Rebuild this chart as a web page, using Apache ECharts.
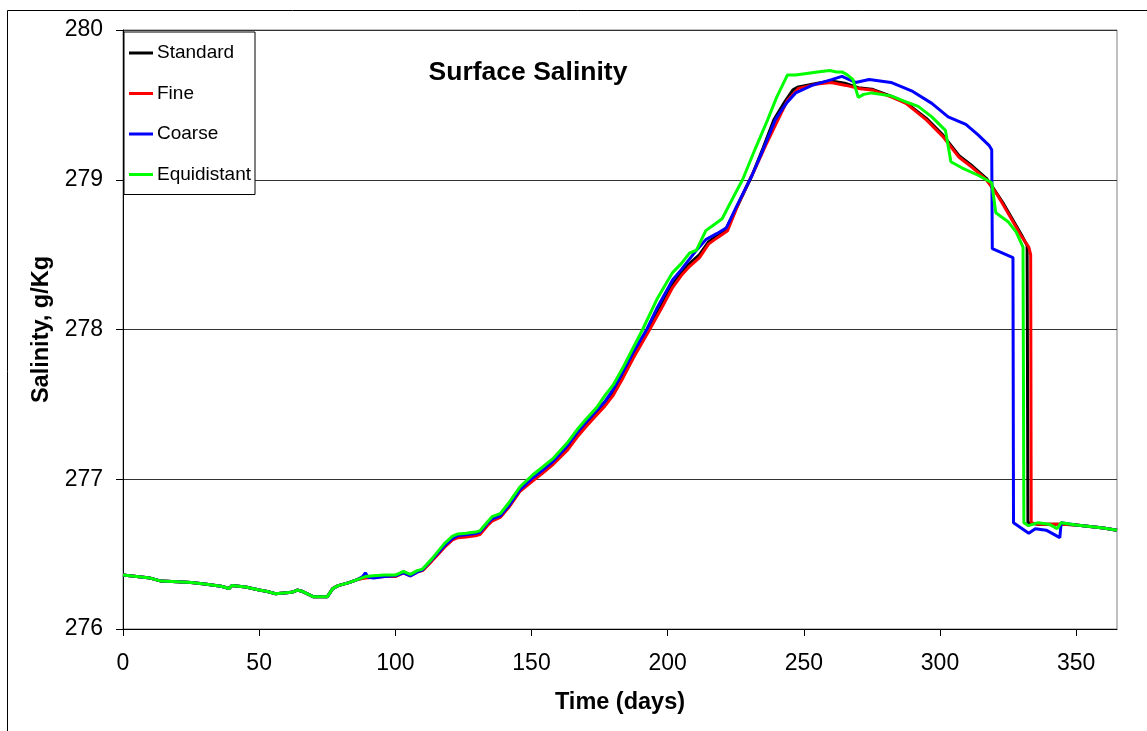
<!DOCTYPE html>
<html>
<head>
<meta charset="utf-8">
<script src="https://cdn.jsdelivr.net/npm/echarts@6/dist/echarts.min.js"></script>
<style>
html,body{margin:0;padding:0;background:#fff;}
#chart{width:1147px;height:731px;}
</style>
</head>
<body>
<div id="chart"></div>
<script>
// ---- Data ----
var xTicks = [0, 50, 100, 150, 200, 250, 300, 350];
var yTicks = [276, 277, 278, 279, 280];
var seriesNames = ['Standard', 'Fine', 'Coarse', 'Equidistant'];

// shared early segment (days 0-86), all runs coincide
var earlyDays = [0,5,10,14,20,25,30,36,39,40,45,50,53,56,59,62,64,66,70,75,77,79,83,86];
var earlySal = [276.36,276.35,276.34,276.32,276.315,276.31,276.30,276.285,276.27,276.29,276.28,276.26,276.25,276.235,276.24,276.245,276.26,276.25,276.215,276.215,276.27,276.29,276.31,276.33];

var stdDays = [89,92,96,100,103,105.5,108,110,113.5,115.5,118,121,123,126,130,131,133.8,135.5,138.5,142,145.8,150.5,154,158,163,166.7,170,174,177,180,183.7,187.4,193,198,201.8,205,208,211.7,215,218,221,225,231,235,239,243,246,248,255,260,265,270,275,282.5,287.5,295,301,307,312,317,319,323,326.5,330,332,332.3,336,340,345,350,355,360,365];
var stdSal = [276.345,276.35,276.355,276.355,276.38,276.36,276.385,276.395,276.46,276.50,276.55,276.60,276.62,276.625,276.635,276.64,276.70,276.73,276.75,276.825,276.925,277.0,277.05,277.11,277.205,277.295,277.365,277.445,277.505,277.58,277.70,277.83,278.0,278.17,278.30,278.38,278.44,278.50,278.585,278.625,278.655,278.80,279.03,279.21,279.40,279.52,279.60,279.62,279.645,279.66,279.645,279.615,279.605,279.555,279.515,279.41,279.30,279.16,279.09,279.01,278.96,278.85,278.74,278.63,278.56,276.71,276.70,276.70,276.70,276.695,276.685,276.675,276.66];

var fineDays = [89,92,96,100,103,105.5,108,110,113.5,115.5,118,121,123,126,130,131,133.8,135.5,138.5,142,145.8,150.5,154,158,163,166.7,170,174,177,180,183.7,187.4,193.4,198,201.8,205,208,211.7,215,218,222,226,232,236,240.5,244,248,255,260,265.5,270,275,282.5,287.5,295,301,307,312,317,319,321,323,326.5,330,332.6,333.3,333.5,336,340,345,350,355,360,365];
var fineSal = [276.34,276.345,276.35,276.35,276.375,276.355,276.38,276.39,276.455,276.495,276.545,276.595,276.61,276.615,276.625,276.63,276.69,276.72,276.745,276.82,276.92,276.99,277.04,277.10,277.19,277.28,277.35,277.43,277.49,277.56,277.68,277.81,278.0,278.15,278.28,278.36,278.42,278.48,278.57,278.61,278.66,278.84,279.07,279.23,279.40,279.53,279.61,279.64,279.65,279.63,279.61,279.60,279.55,279.51,279.40,279.29,279.15,279.08,279.0,278.95,278.90,278.84,278.73,278.62,278.55,278.50,276.71,276.70,276.70,276.70,276.695,276.685,276.675,276.66];

var coarseDays = [88,89,90,92,96,100,103,105.5,108,110,113.5,115.5,118,121,123,126,130,131,133.8,135.5,138.5,142,145.8,150.5,154,158,163,166.7,170,174,177,180,183.7,187.4,192.3,196,201.8,205,208,210.6,214,218,221.6,225,231,235,239.5,242,244,247,253,260.5,264,269,274,282,290,297,303,309.5,314,318,319,319.2,326.8,327,332.6,335,339,344,344.5,350,355,360,365];
var coarseSal = [276.35,276.375,276.345,276.34,276.35,276.355,276.375,276.355,276.38,276.395,276.465,276.505,276.555,276.605,276.625,276.63,276.64,276.645,276.705,276.735,276.755,276.83,276.93,277.01,277.06,277.12,277.22,277.31,277.38,277.46,277.52,277.60,277.72,277.85,278.0,278.14,278.33,278.40,278.47,278.53,278.60,278.64,278.68,278.81,279.03,279.2,279.4,279.47,279.52,279.58,279.63,279.67,279.69,279.65,279.67,279.65,279.59,279.51,279.42,279.37,279.30,279.23,279.20,278.54,278.48,276.71,276.64,276.67,276.66,276.61,276.71,276.695,276.685,276.675,276.66];

var equiDays = [89,92,96,100,103,105.5,108,110,113.5,115.5,118,121,123,126,130,131,133.8,135.5,138.5,142,145.8,150.5,154,158,163,166.7,170,174,177,180,183.7,187.4,190.8,196,201.8,205,208,210.6,214,217,220,224,227.5,232,236.7,240,244,247,251,255,259.5,262,264,266,268,270,272,275,282,287.5,292,297,302,304,308,314,319,320.5,325,328,330.5,330.8,332.5,336,340,343,344.5,350,355,360,365];
var equiSal = [276.35,276.355,276.36,276.36,276.385,276.365,276.39,276.40,276.47,276.515,276.57,276.62,276.635,276.64,276.65,276.655,276.715,276.75,276.77,276.85,276.95,277.03,277.08,277.14,277.24,277.33,277.40,277.48,277.56,277.63,277.75,277.88,278.0,278.2,278.38,278.44,278.51,278.53,278.66,278.70,278.74,278.88,279.0,279.2,279.4,279.55,279.70,279.70,279.71,279.72,279.73,279.72,279.72,279.70,279.67,279.55,279.57,279.58,279.56,279.52,279.49,279.42,279.33,279.12,279.08,279.03,278.98,278.78,278.72,278.65,278.55,276.71,276.69,276.71,276.70,276.67,276.71,276.695,276.685,276.675,276.66];

// ---- Build ----
function pairs(d1, v1, d2, v2) {
  var out = [];
  for (var i = 0; i < d1.length; i++) out.push([d1[i], v1[i]]);
  for (var j = 0; j < d2.length; j++) out.push([d2[j], v2[j]]);
  return out;
}
var seriesData = [
  pairs(earlyDays, earlySal, stdDays, stdSal),
  pairs(earlyDays, earlySal, fineDays, fineSal),
  pairs(earlyDays, earlySal, coarseDays, coarseSal),
  pairs(earlyDays, earlySal, equiDays, equiSal)
];
var colors = ['#000000', '#ff0000', '#0000ff', '#00ff00'];
var FONT = '"Liberation Sans", Arial, sans-serif';

var chart = echarts.init(document.getElementById('chart'), null, {renderer: 'canvas'});
chart.setOption({
  animation: false,
  backgroundColor: '#ffffff',
  textStyle: {fontFamily: FONT, color: '#000'},
  graphic: [
    {type: 'rect', silent: true, z: 0,
     shape: {x: 7.5, y: 10.5, width: 1400, height: 1000},
     style: {fill: 'none', stroke: '#000', lineWidth: 1}},
    {type: 'text', silent: true, z: 100, x: 528, y: 73,
     style: {text: 'Surface Salinity', font: 'bold 26.5px ' + FONT, fill: '#000',
             textAlign: 'center', textVerticalAlign: 'middle'}}
  ],
  grid: {left: 123, right: 30, top: 30, bottom: 102, show: true,
         borderColor: '#808080', borderWidth: 1, backgroundColor: 'transparent'},
  legend: {
    orient: 'vertical', left: 124, top: 32,
    data: seriesNames,
    icon: 'rect',
    itemWidth: 24, itemHeight: 3, itemGap: 20.5,
    padding: [11, 4, 10, 5],
    borderColor: '#000', borderWidth: 1, backgroundColor: '#fff',
    textStyle: {fontSize: 19, fontFamily: FONT, color: '#000', lineHeight: 20, padding: [0, 0, 0, -1]},
    selectedMode: false
  },
  xAxis: {
    type: 'value', min: 0, max: 365, interval: 50,
    name: 'Time (days)', nameLocation: 'middle', nameGap: 62,
    nameTextStyle: {fontSize: 23.5, fontWeight: 'bold', fontFamily: FONT, color: '#000'},
    axisLine: {show: true, lineStyle: {color: '#000', width: 1}},
    axisTick: {show: true, inside: false, length: 7, lineStyle: {color: '#000'}, customValues: xTicks},
    axisLabel: {fontSize: 23, color: '#000', margin: 23, fontFamily: FONT, customValues: xTicks},
    splitLine: {show: false}
  },
  yAxis: {
    type: 'value', min: 276, max: 280, interval: 1,
    name: 'Salinity, g/Kg', nameLocation: 'middle', nameGap: 69, nameRotate: 90,
    nameTextStyle: {fontSize: 23.5, fontWeight: 'bold', fontFamily: FONT, color: '#000'},
    axisLine: {show: true, lineStyle: {color: '#000', width: 1}},
    axisTick: {show: true, inside: false, length: 7, lineStyle: {color: '#000'}},
    axisLabel: {fontSize: 23, color: '#000', margin: 20, fontFamily: FONT,
                formatter: function (v) { return yTicks.indexOf(v) >= 0 ? String(v) : ''; }},
    splitLine: {show: true, lineStyle: {color: '#333', width: 1}}
  },
  series: seriesNames.map(function (n, i) {
    return {
      name: n, type: 'line', data: seriesData[i],
      showSymbol: false, symbol: 'none', clip: true,
      lineStyle: {color: colors[i], width: 3},
      itemStyle: {color: colors[i]},
      emphasis: {disabled: true}, z: 2 + i
    };
  })
});
</script>
</body>
</html>
